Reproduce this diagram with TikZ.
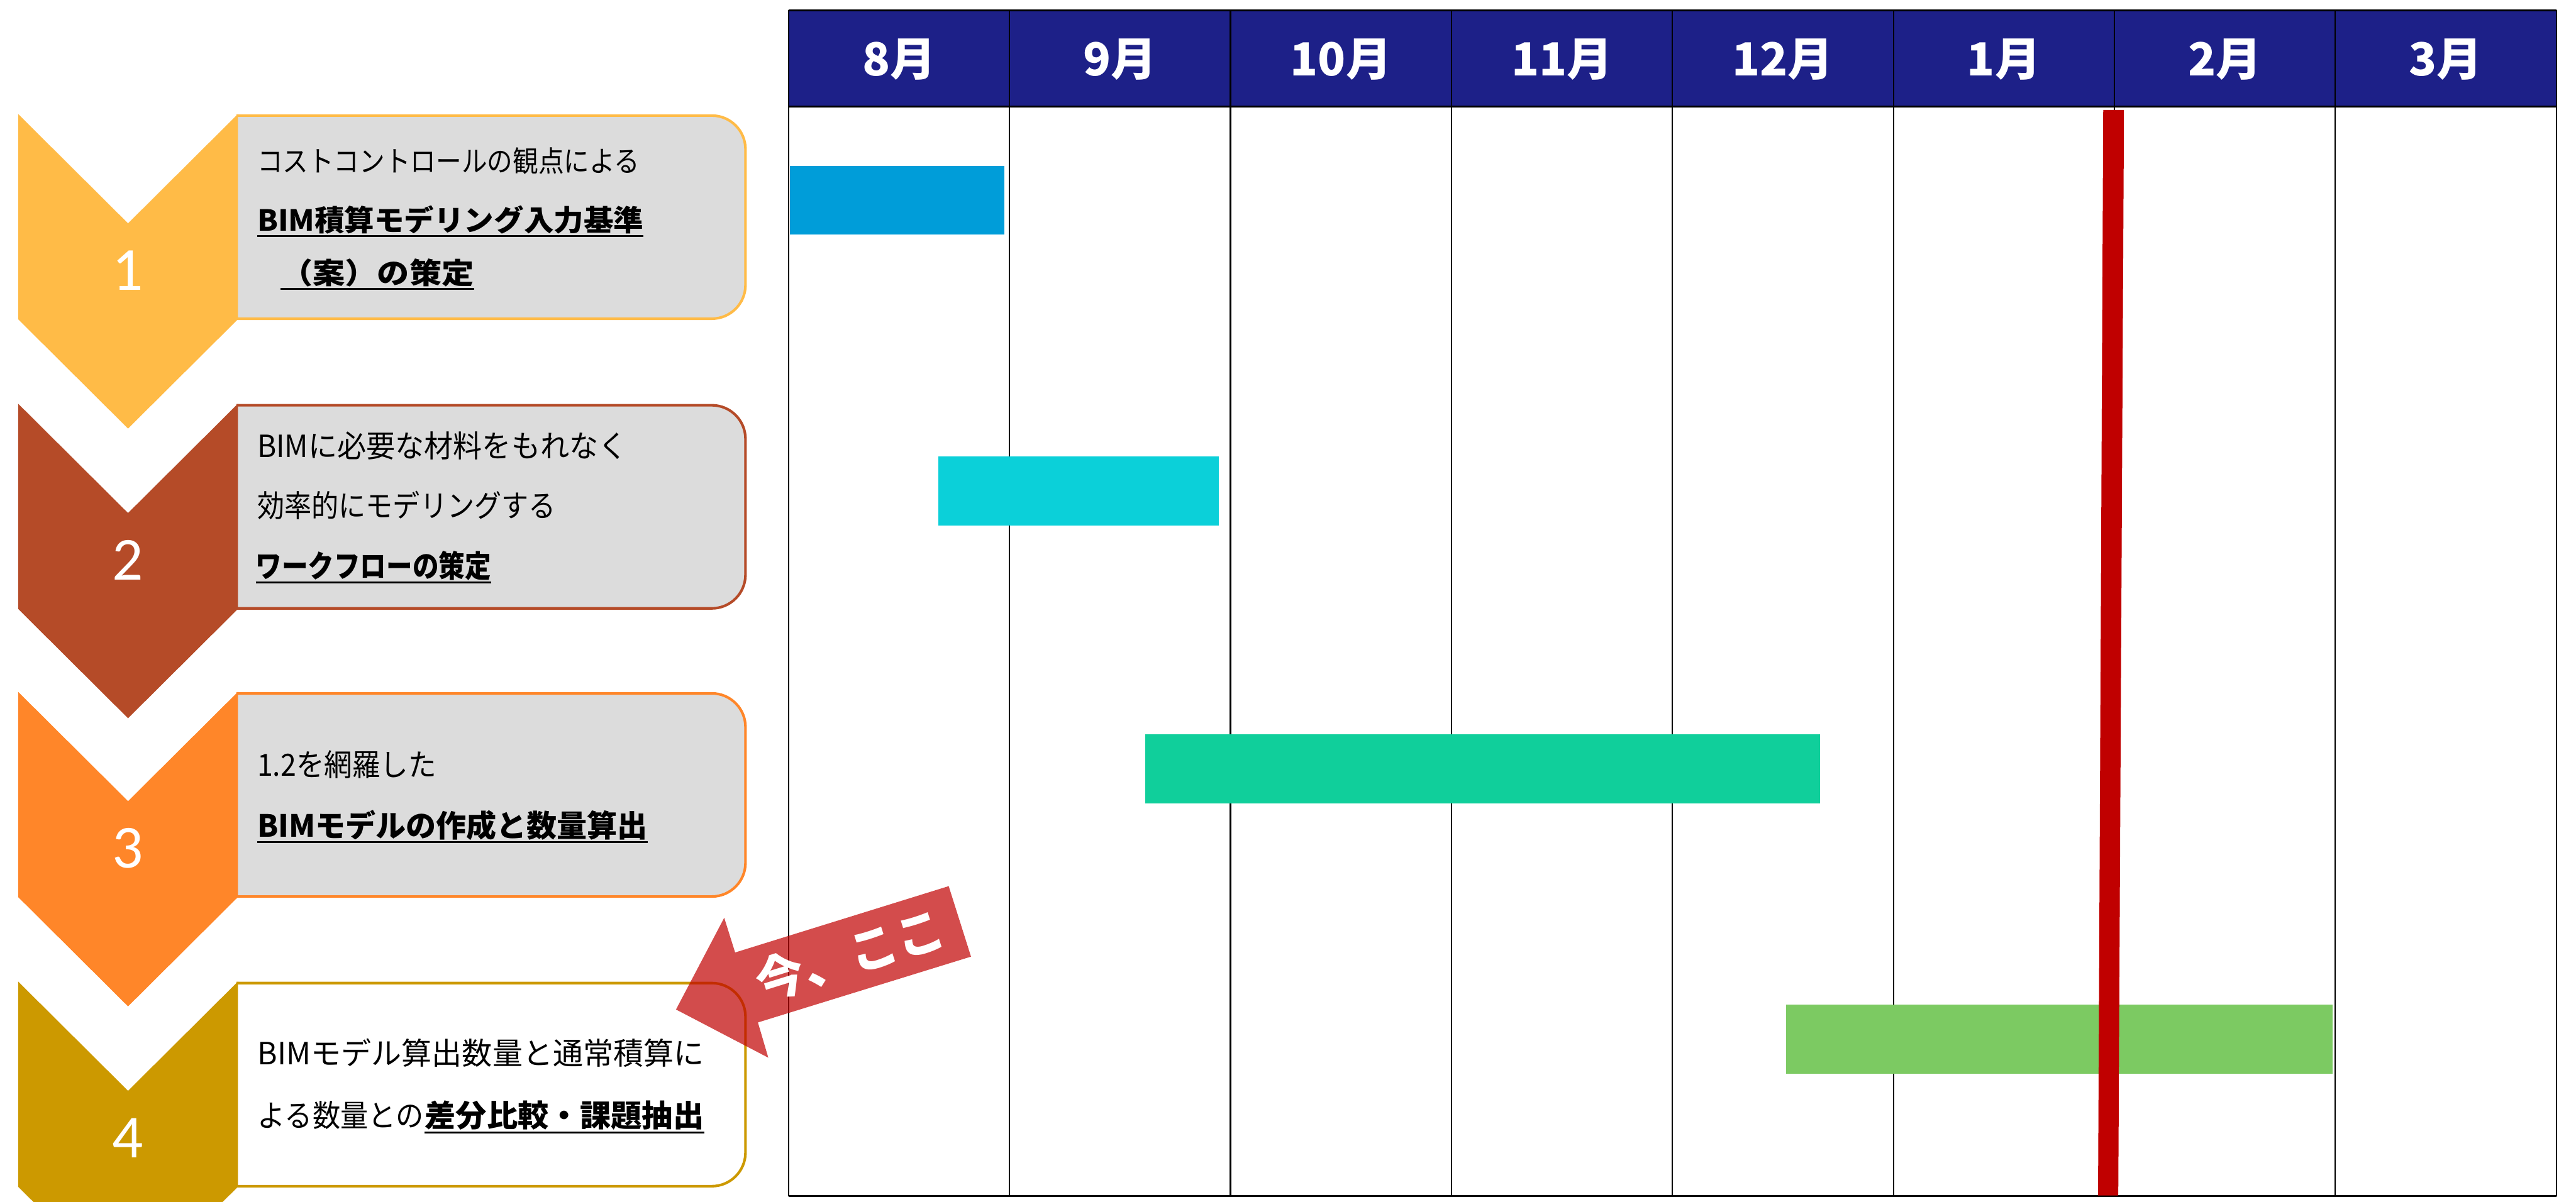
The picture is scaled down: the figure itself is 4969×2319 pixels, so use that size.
\documentclass[tikz,border=0pt]{standalone}
\usepackage{graphicx}
\usepackage{fontspec}
\setmainfont{Noto Sans CJK JP}
\newfontfamily\numfont{Carlito}
\definecolor{chA}{RGB}{255,187,71}
\definecolor{chB}{RGB}{181,75,40}
\definecolor{chC}{RGB}{255,134,41}
\definecolor{chD}{RGB}{204,153,0}
\definecolor{boxgray}{RGB}{220,220,220}
\definecolor{hdrnavy}{RGB}{29,32,136}
\definecolor{barA}{RGB}{0,157,217}
\definecolor{barB}{RGB}{11,208,217}
\definecolor{barC}{RGB}{16,207,155}
\definecolor{barD}{RGB}{124,202,98}
\definecolor{nowred}{RGB}{192,0,0}
\newcommand\fsA{\fontsize{56}{60}\selectfont}
\newcommand\fsB{\fontsize{59}{62}\selectfont}
\newcommand\myul[1]{\setbox0\hbox{#1}\rlap{\rule[-0.2em]{\wd0}{0.06em}}\box0}
\newcommand\fitw[2]{\resizebox{#1}{\height}{#2}}
\begin{document}
\begin{tikzpicture}[x=1pt,y=-1pt,
  txt/.style={anchor=base west, inner sep=0pt, text=black},
  boxshape/.style={line width=5pt, rounded corners=65pt},
  numlabel/.style={inner sep=0pt, text=white, font=\numfont\fontsize{118}{118}\selectfont},
  monlabel/.style={inner sep=0pt, text=white, font=\fontsize{88}{88}\selectfont\bfseries},
  gridline/.style={line width=2.6pt, black}]
\useasboundingbox (0,0) rectangle (4969,2319);
\clip (0,0) rectangle (4969,2319);
% ---- left: boxes and chevrons
\foreach \T/\c/\f/\n in {220/chA/boxgray/1, 779/chB/boxgray/2, 1335/chC/boxgray/3, 1894/chD/white/4}{
  \begin{scope}
    \clip (456,\T-20) rectangle (1500,\T+420);
    \draw[boxshape, draw=\c, fill=\f] (300,\T+3) rectangle (1438,\T+395);
  \end{scope}
  \fill[\c] (35,\T) -- (247,\T+211) -- (459,\T) -- (459,\T+396) -- (247,\T+607) -- (35,\T+396) -- cycle;
  \node[numlabel] (num\n) at (247,\T+302) {\n};
}
% box 1 text
\node[txt, font=\fsA] (b1l1) at (496,332) {\fitw{738pt}{コストコントロールの観点による}};
\node[txt, font=\fsA\bfseries] (b1l2) at (496,446) {\fitw{745pt}{\myul{BIM積算モデリング入力基準}}};
\node[txt, font=\fsA\bfseries] (b1l3) at (541,548) {\fitw{373pt}{\myul{（案）の策定}}};
% box 2 text
\node[txt, font=\fsB] (b2l1) at (496,882) {\fitw{714pt}{BIMに必要な材料をもれなく}};
\node[txt, font=\fsB] (b2l2) at (496,998) {\fitw{576pt}{効率的にモデリングする}};
\node[txt, font=\fsB\bfseries] (b2l3) at (493,1114) {\fitw{454pt}{\myul{ワークフローの策定}}};
% box 3 text
\node[txt, font=\fsB] (b3l1) at (496,1498) {\fitw{346pt}{1.2を網羅した}};
\node[txt, font=\fsB\bfseries] (b3l2) at (496,1615) {\fitw{753pt}{\myul{BIMモデルの作成と数量算出}}};
% box 4 text
\node[txt, font=\fsB] (b4l1) at (497,2055) {\fitw{861pt}{BIMモデル算出数量と通常積算に}};
\node[txt, font=\fsB] (b4l2a) at (497,2175) {\fitw{320pt}{よる数量との}};
\node[txt, font=\fsB\bfseries] (b4l2b) at (819,2175) {\fitw{539pt}{\myul{差分比較・課題抽出}}};
% ---- table header
\fill[hdrnavy] (1521,20) rectangle (4931,206);
\foreach \i/\m in {0/8月,1/9月,2/10月,3/11月,4/12月,5/1月,6/2月,7/3月}{
  \node[monlabel] (m\i) at (1521+426.25*\i+213.1,115) {\m};
}
\foreach \i in {0,...,8}{
  \draw[gridline] (1521+426.25*\i,20) -- (1521+426.25*\i,2308);
}
\draw[line width=3pt] (1521,20) -- (4931,20);
\draw[line width=4pt] (1521,206) -- (4931,206);
\draw[line width=4pt] (1521,2308) -- (4931,2308);
% ---- bars
\fill[barA] (1524,320) rectangle (1937,453);
\fill[barB] (1810,881) rectangle (2351,1014);
\fill[barC] (2209,1417) rectangle (3511,1550);
\fill[barD] (3445,1939) rectangle (4500,2072);
% ---- today line
\fill[nowred] (4057,212) -- (4097,212) -- (4086,2307) -- (4047,2307) -- cycle;
% ---- "now" arrow
\fill[nowred, opacity=0.7] (1304,1948) -- (1397,1771) -- (1418,1838) -- (1830,1710) -- (1873,1846) -- (1462,1973) -- (1482,2041) -- cycle;
\node[rotate=17.3, inner sep=0pt, text=white, font=\fontsize{94}{94}\selectfont\bfseries] (now) at (1640,1843) {今、ここ};
\end{tikzpicture}
\end{document}
